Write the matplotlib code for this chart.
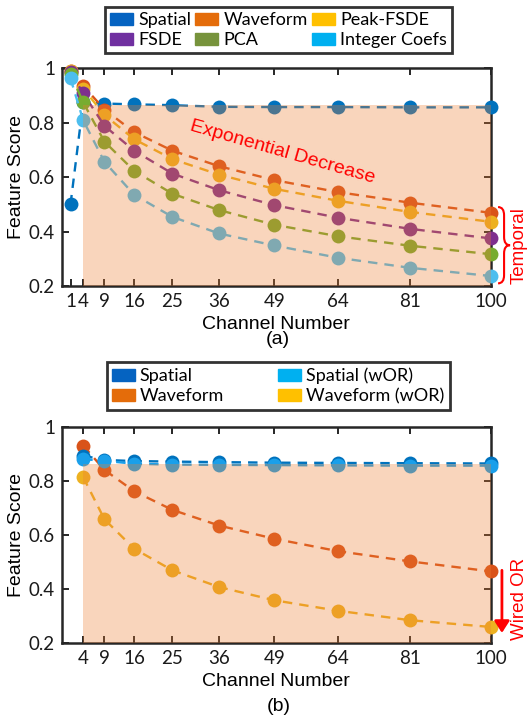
import matplotlib
matplotlib.use("Agg")
import matplotlib.pyplot as plt
from matplotlib.patches import Patch, PathPatch
from matplotlib.path import Path
import matplotlib.transforms as mtransforms

# ---- data (a)
channels_a = [1, 4, 9, 16, 25, 36, 49, 64, 81, 100]
spatial_a = [0.50, 0.875, 0.870, 0.867, 0.864, 0.858, 0.857, 0.857, 0.856, 0.856]
waveform_a = [0.990, 0.935, 0.848, 0.765, 0.697, 0.640, 0.589, 0.545, 0.506, 0.469]
peak_fsde_a = [0.988, 0.925, 0.828, 0.739, 0.666, 0.609, 0.557, 0.513, 0.472, 0.436]
fsde_a = [0.985, 0.907, 0.788, 0.697, 0.613, 0.552, 0.497, 0.451, 0.410, 0.375]
pca_a = [0.980, 0.874, 0.730, 0.623, 0.539, 0.479, 0.425, 0.383, 0.348, 0.317]
integer_a = [0.962, 0.808, 0.656, 0.535, 0.454, 0.393, 0.349, 0.304, 0.267, 0.237]

# ---- data (b)
channels_b = [4, 9, 16, 25, 36, 49, 64, 81, 100]
spatial_b = [0.895, 0.879, 0.875, 0.873, 0.871, 0.869, 0.868, 0.867, 0.866]
spatial_wor_b = [0.882, 0.876, 0.865, 0.862, 0.861, 0.860, 0.859, 0.858, 0.858]
waveform_b = [0.932, 0.842, 0.763, 0.694, 0.636, 0.587, 0.541, 0.503, 0.466]
waveform_wor_b = [0.815, 0.659, 0.550, 0.470, 0.408, 0.359, 0.320, 0.285, 0.260]

yticks = [0.2, 0.4, 0.6, 0.8, 1.0]
ytick_labels = ["0.2", "0.4", "0.6", "0.8", "1"]
shade_top = 0.865

C_BLUE = "#0072BD"
C_ORANGE = "#D95319"
C_YELLOW = "#EDB120"
C_PURPLE = "#7E2F8E"
C_GREEN = "#77AC30"
C_CYAN = "#4DBEEE"
C_CYAN_B = "#1A9FEA"
SPINE = "#262626"
RED = "#FF0000"

TICK_FONT = "Lato"
LABEL_FONT = ["Liberation Sans", "DejaVu Sans"]

fig = plt.figure(figsize=(5.3, 7.17), dpi=100)
ax1 = fig.add_axes([0.117, 0.601, 0.809, 0.304])
ax2 = fig.add_axes([0.117, 0.103, 0.809, 0.301])


def draw(ax, x, y, color):
    ax.plot(x, y, linestyle=(0, (4, 3)), lw=1.7, color=color, marker="o",
            markersize=10, markeredgewidth=0, clip_on=False, zorder=3)


def style(ax, xticks):
    ax.set_xlim(-1, 100)
    ax.set_ylim(0.2, 1.0)
    ax.set_xticks(xticks)
    ax.set_xticklabels([str(v) for v in xticks], fontfamily=TICK_FONT, fontsize=13.5)
    ax.set_yticks(yticks)
    ax.set_yticklabels(ytick_labels, fontfamily=TICK_FONT, fontsize=13.5)
    ax.tick_params(direction="in", top=True, right=True, length=5, width=1.4,
                   color=SPINE, labelcolor="#1a1a1a", pad=5)
    for s in ax.spines.values():
        s.set_linewidth(1.8)
        s.set_color(SPINE)
    ax.set_ylabel("Feature Score", fontfamily=LABEL_FONT, fontsize=14, labelpad=3)
    ax.set_xlabel("Channel Number", fontfamily=LABEL_FONT, fontsize=14, labelpad=4)
    ax.fill_between([4, 100], 0.2, shade_top, color="#ED7D31", alpha=0.32,
                    lw=0, zorder=5)


# ---- (a)
draw(ax1, channels_a, spatial_a, C_BLUE)
draw(ax1, channels_a, waveform_a, C_ORANGE)
draw(ax1, channels_a, peak_fsde_a, C_YELLOW)
draw(ax1, channels_a, fsde_a, C_PURPLE)
draw(ax1, channels_a, pca_a, C_GREEN)
draw(ax1, channels_a, integer_a, C_CYAN)
style(ax1, channels_a)

ax1.text(51, 0.69, "Exponential Decrease", color=RED, fontsize=14,
         fontfamily=LABEL_FONT, rotation=-16, ha="center", va="center",
         rotation_mode="anchor", zorder=6)

# brace + "Temporal"
tr1 = mtransforms.blended_transform_factory(ax1.transAxes, ax1.transData)
b0, b1, bm = 0.21, 0.49, 0.35
xa, xb, xc = 1.017, 1.031, 1.045
verts = [(xa, b1), (xb, b1), (xb, b1 - 0.03), (xb, bm + 0.03),
         (xb, bm), (xc, bm), (xb, bm), (xb, bm - 0.03),
         (xb, b0 + 0.03), (xb, b0), (xa, b0)]
codes = [Path.MOVETO, Path.CURVE3, Path.CURVE3, Path.LINETO,
         Path.CURVE3, Path.CURVE3, Path.CURVE3, Path.CURVE3,
         Path.LINETO, Path.CURVE3, Path.CURVE3]
ax1.add_patch(PathPatch(Path(verts, codes), transform=tr1, fill=False,
                        edgecolor=RED, lw=1.5, clip_on=False))
ax1.text(1.066, bm, "Temporal", transform=tr1, rotation=90, color=RED,
         fontsize=13.5, fontfamily=LABEL_FONT, ha="center", va="center")

# ---- (b)
draw(ax2, channels_b, waveform_b, C_ORANGE)
draw(ax2, channels_b, waveform_wor_b, C_YELLOW)
draw(ax2, channels_b, spatial_b, C_BLUE)
draw(ax2, channels_b, spatial_wor_b, C_CYAN_B)
style(ax2, channels_b)

tr2 = mtransforms.blended_transform_factory(ax2.transAxes, ax2.transData)
ax2.annotate("", xy=(1.026, 0.238), xytext=(1.026, 0.47), xycoords=tr2,
             textcoords=tr2,
             arrowprops=dict(arrowstyle="-|>,head_length=0.7,head_width=0.45",
                             color=RED, lw=2, shrinkA=0, shrinkB=0))
ax2.text(1.066, 0.363, "Wired OR", transform=tr2, rotation=90, color=RED,
         fontsize=13.5, fontfamily=LABEL_FONT, ha="center", va="center")

# ---- legends
leg_a = [Patch(color="#0563C1", label="Spatial"),
         Patch(color="#7030A0", label="FSDE"),
         Patch(color="#E46C0A", label="Waveform"),
         Patch(color="#77933C", label="PCA"),
         Patch(color="#FFC000", label="Peak-FSDE"),
         Patch(color="#00B0F0", label="Integer Coefs")]
lg = fig.legend(handles=leg_a, ncol=3, loc="center", bbox_to_anchor=(0.5255, 0.958),
                prop={"family": TICK_FONT, "size": 13}, frameon=True, fancybox=False,
                edgecolor="black", handlelength=1.25, handleheight=0.65,
                handletextpad=0.3, columnspacing=0.25, labelspacing=0.2,
                borderpad=0.3, borderaxespad=0)
lg.get_frame().set_linewidth(2)

leg_b = [Patch(color="#0563C1", label="Spatial"),
         Patch(color="#E46C0A", label="Waveform"),
         Patch(color="#00B0F0", label="Spatial (wOR)"),
         Patch(color="#FFC000", label="Waveform (wOR)")]
lg2 = fig.legend(handles=leg_b, ncol=2, loc="center", bbox_to_anchor=(0.525, 0.4617),
                 prop={"family": TICK_FONT, "size": 13}, frameon=True, fancybox=False,
                 edgecolor="black", handlelength=1.25, handleheight=0.65,
                 handletextpad=0.3, columnspacing=3.0, labelspacing=0.2,
                 borderpad=0.3, borderaxespad=0)
lg2.get_frame().set_linewidth(2)

fig.text(0.525, 0.526, "(a)", ha="center", va="center", fontsize=14,
         fontfamily=LABEL_FONT)
fig.text(0.525, 0.015, "(b)", ha="center", va="center", fontsize=14,
         fontfamily=LABEL_FONT)

fig.savefig("out.png", dpi=100)
